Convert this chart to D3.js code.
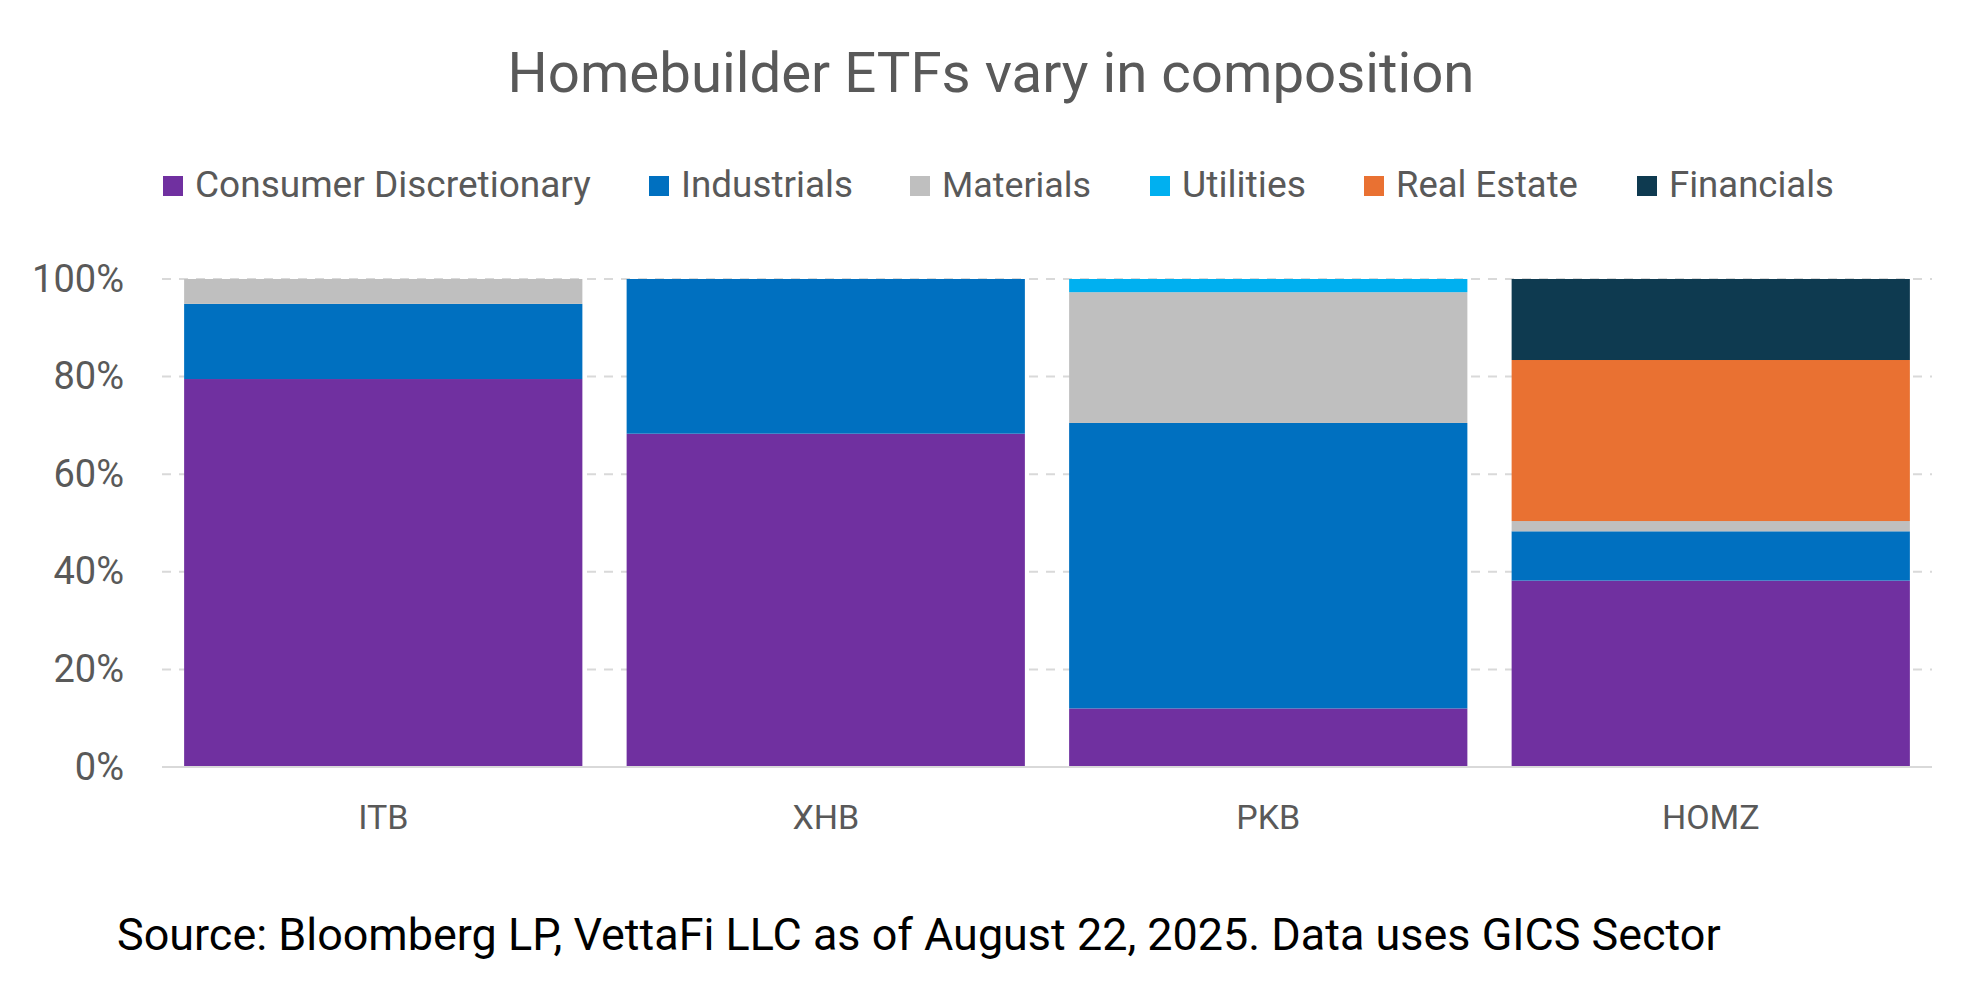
<!DOCTYPE html>
<html>
<head>
<meta charset="utf-8">
<script src="https://cdn.jsdelivr.net/npm/d3@7"></script>
<style>
  body { margin: 0; background: #fff; }
  svg { display: block; font-family: Roboto, "Noto Sans", sans-serif; }
</style>
</head>
<body>
<div id="chart"></div>
<script>
const width = 1980;
const height = 990;

const etfs = ["ITB", "XHB", "PKB", "HOMZ"];
const sectors = ["Consumer Discretionary", "Industrials", "Materials", "Utilities", "Real Estate", "Financials"];
const consumerDisc = [79.5, 68.3, 12.0, 38.2];
const industrials = [15.4, 31.7, 58.5, 10.1];
const materials = [5.1, 0, 26.8, 2.1];
const utilities = [0, 0, 2.7, 0];
const realEstate = [0, 0, 0, 33.0];
const financials = [0, 0, 0, 16.6];
const yTicks = [0, 20, 40, 60, 80, 100];
const colors = ["#7030A0", "#0070C0", "#BFBFBF", "#00B0F0", "#E97132", "#0E3A50"];

const series = [consumerDisc, industrials, materials, utilities, realEstate, financials];
const rows = etfs.map((e, i) => {
    const r = { etf: e };
    sectors.forEach((s, j) => r[s] = series[j][i]);
    return r;
});

const plot = { left: 162, right: 1932, top: 279, bottom: 767 };

const svg = d3.select("#chart")
    .append("svg")
    .attr("width", width)
    .attr("height", height);

const x = d3.scaleBand()
    .domain(etfs)
    .range([plot.left, plot.right])
    .paddingInner(0.1)
    .paddingOuter(0.05);

const y = d3.scaleLinear()
    .domain([0, 100])
    .range([plot.bottom, plot.top]);

const color = d3.scaleOrdinal().domain(sectors).range(colors);

// scale a text's font size so it spans the target width
function fit(sel, target) {
    const node = sel.node();
    const fs = parseFloat(sel.attr("font-size"));
    const w = node.getComputedTextLength();
    sel.attr("font-size", fs * target / w);
}

// gridlines
svg.append("g")
    .selectAll("line")
    .data(yTicks.filter(t => t > 0))
    .enter()
    .append("line")
    .attr("x1", plot.left)
    .attr("x2", plot.right)
    .attr("y1", d => y(d))
    .attr("y2", d => y(d))
    .attr("stroke", "#D9D9D9")
    .attr("stroke-width", 2)
    .attr("stroke-dasharray", "9,8");

// stacked bars
const stack = d3.stack().keys(sectors)(rows);

svg.append("g")
    .selectAll("g")
    .data(stack)
    .enter()
    .append("g")
    .attr("fill", d => color(d.key))
    .selectAll("rect")
    .data(d => d)
    .enter()
    .append("rect")
    .attr("x", d => x(d.data.etf))
    .attr("width", x.bandwidth())
    .attr("y", d => y(d[1]))
    .attr("height", d => y(d[0]) - y(d[1]));

// baseline
svg.append("line")
    .attr("x1", plot.left)
    .attr("x2", plot.right)
    .attr("y1", y(0))
    .attr("y2", y(0))
    .attr("stroke", "#D9D9D9")
    .attr("stroke-width", 2);

// y axis labels
const yAxis = svg.append("g")
    .attr("transform", "translate(" + (plot.left - 38) + ",0)")
    .call(d3.axisLeft(y).tickValues(yTicks).tickFormat(d => d + "%").tickSize(0).tickPadding(0));
yAxis.select(".domain").remove();
yAxis.selectAll("text")
    .attr("font-size", 38)
    .attr("font-family", "Roboto, sans-serif")
    .attr("fill", "#595959");

// x axis labels
const xAxis = svg.append("g")
    .attr("transform", "translate(0," + plot.bottom + ")")
    .call(d3.axisBottom(x).tickSize(0).tickPadding(38));
xAxis.select(".domain").remove();
xAxis.selectAll("text")
    .attr("font-size", 34)
    .attr("font-family", "Roboto, sans-serif")
    .attr("fill", "#595959");

// title
const title = svg.append("text")
    .attr("x", 991)
    .attr("y", 92)
    .attr("text-anchor", "middle")
    .attr("font-size", 50)
    .attr("fill", "#595959")
    .text("Homebuilder ETFs vary in composition");
fit(title, 967);

// legend
const legendX = [163, 649, 910, 1150, 1364, 1637];
const legendW = [396, 172, 149, 124, 182, 165];
const legend = svg.append("g")
    .selectAll("g")
    .data(sectors)
    .enter()
    .append("g")
    .attr("transform", (d, i) => "translate(" + legendX[i] + ",186)");
legend.append("rect")
    .attr("x", 0)
    .attr("y", -10)
    .attr("width", 20)
    .attr("height", 20)
    .attr("fill", d => color(d));
legend.append("text")
    .attr("x", 32)
    .attr("y", 11)
    .attr("font-size", 32)
    .attr("fill", "#595959")
    .text(d => d)
    .each(function (d, i) { fit(d3.select(this), legendW[i]); });

// source
const source = svg.append("text")
    .attr("x", 117)
    .attr("y", 950)
    .attr("font-size", 40)
    .attr("fill", "#000")
    .text("Source: Bloomberg LP, VettaFi LLC as of August 22, 2025. Data uses GICS Sector");
fit(source, 1604);
</script>
</body>
</html>
